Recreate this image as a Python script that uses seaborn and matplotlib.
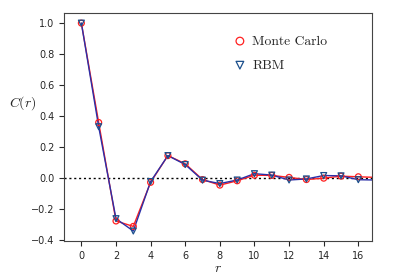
import numpy as np
import pandas as pd
import matplotlib
matplotlib.use("Agg")
import matplotlib.pyplot as plt
import seaborn as sns

sns.set_style("ticks")
plt.rcParams.update({
    "font.family": ["DejaVu Sans"],
    "mathtext.fontset": "cm",
    "xtick.labelsize": 7,
    "ytick.labelsize": 7,
    "axes.edgecolor": "#444444",
    "axes.linewidth": 0.8,
})

# distances r and correlation values
r = [0, 1, 2, 3, 4, 5, 6, 7, 8, 9, 10, 11, 12, 13, 14, 15, 16, 17]
mc = [1.0, 0.357, -0.28, -0.315, -0.03, 0.143, 0.09, -0.012, -0.048, -0.02,
      0.016, 0.015, 0.002, -0.012, -0.003, 0.01, 0.006, 0.002]
rbm = [1.0, 0.33, -0.265, -0.345, -0.025, 0.143, 0.085, -0.016, -0.038, -0.015,
       0.026, 0.017, -0.015, -0.008, 0.014, 0.012, -0.013, -0.015]

df = pd.DataFrame({
    "r": r * 2,
    "C": mc + rbm,
    "method": ["Monte Carlo"] * len(r) + ["RBM"] * len(r),
})

red = "#ff2020"
blue = "#2b2fa8"
tri = "#1b4f8c"

fig = plt.figure(figsize=(3.93, 2.8), dpi=100)
ax = fig.add_axes([0.163, 0.139, 0.784, 0.816])

ax.axhline(0, color="black", linestyle=(0, (1.5, 2)), linewidth=1.0, zorder=1)

sns.lineplot(data=df[df.method == "Monte Carlo"], x="r", y="C", color=red,
             linewidth=1.0, ax=ax, legend=False, zorder=2)
sns.lineplot(data=df[df.method == "RBM"], x="r", y="C", color=blue,
             linewidth=1.0, ax=ax, legend=False, zorder=3)

sns.scatterplot(data=df[df.method == "Monte Carlo"], x="r", y="C", marker="o",
                s=18, facecolor="none", edgecolor=red, linewidth=0.9, ax=ax,
                label="Monte Carlo", zorder=4)
sns.scatterplot(data=df[df.method == "RBM"], x="r", y="C", marker="v",
                s=18, facecolor="none", edgecolor=tri, linewidth=0.9, ax=ax,
                label="RBM", zorder=5)

ax.set_xlim(-1, 16.8)
ax.set_ylim(-0.41, 1.068)
ax.set_xticks(range(0, 17, 2))
ax.set_yticks([-0.4, -0.2, 0.0, 0.2, 0.4, 0.6, 0.8, 1.0])
ax.set_xlabel(r"$r$", fontsize=10)
ax.xaxis.set_label_coords(0.5, -0.085)
ax.set_ylabel(r"$C(r)$", fontsize=10, rotation=0, va="center", ha="center")
ax.yaxis.set_label_coords(-0.133, 0.605)

leg = ax.legend(loc="upper left", bbox_to_anchor=(0.5, 0.955), frameon=False,
                prop={"family": "cmr10", "size": 9.8}, handletextpad=0.2,
                handlelength=1.4, labelspacing=0.85, markerscale=1.3)

fig.savefig("out.png", dpi=100)
